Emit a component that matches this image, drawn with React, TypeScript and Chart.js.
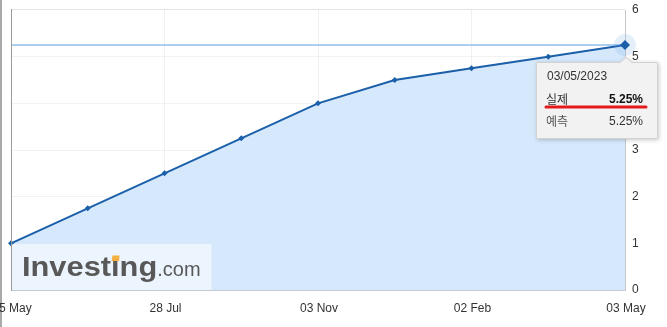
import React, { useEffect, useRef } from "react";
import { Chart, registerables } from "chart.js";

Chart.register(...registerables);

const categories = ["05 May", "16 Jun", "28 Jul", "22 Sep", "03 Nov", "15 Dec", "02 Feb", "23 Mar", "03 May"];
const rateValues = [1.0, 1.75, 2.5, 3.25, 4.0, 4.5, 4.75, 5.0, 5.25];
const xTickIndices = [0, 2, 4, 6, 8];
const xTickLabels = ["05 May", "28 Jul", "03 Nov", "02 Feb", "03 May"];
const yTicks = [0, 1, 2, 3, 4, 5, 6];
const tooltipDate = "03/05/2023";
const tooltipActualLabel = "실제";
const tooltipActualValue = "5.25%";
const tooltipForecastLabel = "예측";
const tooltipForecastValue = "5.25%";
const hoverIndex = 8;

const LATIN = "Arial, 'Liberation Sans', sans-serif";
const KR = "'Noto Sans CJK KR', sans-serif";

const decorPlugin = {
  id: "decor",
  beforeDatasetsDraw(chart: any) {
    const { ctx, chartArea, scales } = chart;
    const y = scales.y.getPixelForValue(rateValues[hoverIndex]);
    ctx.save();
    ctx.strokeStyle = "#90bfea";
    ctx.lineWidth = 1.5;
    ctx.beginPath();
    ctx.moveTo(chartArea.left, y);
    ctx.lineTo(chartArea.right, y);
    ctx.stroke();
    ctx.restore();
  },
  afterDatasetsDraw(chart: any) {
    const { ctx, chartArea, scales } = chart;
    ctx.save();
    // logo box
    const bx = chartArea.left;
    const by = 244;
    ctx.fillStyle = "rgba(255,255,255,0.55)";
    ctx.fillRect(bx + 0.5, by, 200, chartArea.bottom - by);
    ctx.fillStyle = "#585858";
    ctx.textBaseline = "alphabetic";
    ctx.textAlign = "left";
    const main = "Investing";
    const tx = 22;
    const ty = 276;
    ctx.save();
    ctx.translate(tx, ty);
    ctx.scale(1.1, 1);
    ctx.font = "bold 28px " + LATIN;
    ctx.fillText(main, 0, 0);
    const w = ctx.measureText(main).width;
    const preI = ctx.measureText("Invest").width;
    const iW = ctx.measureText("i").width;
    ctx.restore();
    ctx.font = "20px " + LATIN;
    ctx.fillText(".com", tx + w * 1.1, ty);
    // orange dot on i
    ctx.fillStyle = "#f5b041";
    const dx = tx + preI * 1.1;
    const dw = iW * 1.1;
    ctx.beginPath();
    ctx.moveTo(dx + 1.5, 255.5);
    ctx.lineTo(dx + dw, 255.5);
    ctx.lineTo(dx + dw - 0.5, 261);
    ctx.lineTo(dx + 0.5, 261);
    ctx.closePath();
    ctx.fill();

    // hover halo
    const px = scales.x.getPixelForValue(hoverIndex);
    const py = scales.y.getPixelForValue(rateValues[hoverIndex]);
    ctx.fillStyle = "rgba(110,165,230,0.18)";
    ctx.beginPath();
    ctx.arc(px, py, 11, 0, Math.PI * 2);
    ctx.fill();
    ctx.fillStyle = "#1b5fa9";
    ctx.beginPath();
    ctx.moveTo(px, py - 5);
    ctx.lineTo(px + 5, py);
    ctx.lineTo(px, py + 5);
    ctx.lineTo(px - 5, py);
    ctx.closePath();
    ctx.fill();
    ctx.restore();
  },
  afterDraw(chart: any) {
    const { ctx, chartArea, scales } = chart;
    ctx.save();
    // page left border
    ctx.fillStyle = "#a9a9a9";
    ctx.fillRect(0, 0, 2, chart.height);
    // frame
    ctx.strokeStyle = "#e4e4e4";
    ctx.lineWidth = 1;
    ctx.beginPath();
    ctx.moveTo(chartArea.left, chartArea.top - 0.5);
    ctx.lineTo(chartArea.right, chartArea.top - 0.5);
    ctx.stroke();
    ctx.strokeStyle = "#9a9a9a";
    ctx.beginPath();
    ctx.moveTo(chartArea.left + 0.5, chartArea.top - 1);
    ctx.lineTo(chartArea.left + 0.5, chartArea.bottom + 1);
    ctx.stroke();

    // x tick labels
    ctx.fillStyle = "#333333";
    ctx.font = "12px " + LATIN;
    ctx.textAlign = "center";
    ctx.textBaseline = "middle";
    xTickIndices.forEach((idx, i) => {
      const x = scales.x.getPixelForValue(idx);
      ctx.fillText(xTickLabels[i], x + 1, 309);
    });

    // tooltip
    const left = 536;
    const top = 62;
    const width = 122;
    const height = 77;
    const ax = scales.x.getPixelForValue(hoverIndex) + 1;
    ctx.save();
    ctx.shadowColor = "rgba(0,0,0,0.22)";
    ctx.shadowBlur = 4;
    ctx.shadowOffsetX = 1;
    ctx.shadowOffsetY = 1;
    ctx.fillStyle = "#f2f2f2";
    ctx.beginPath();
    ctx.moveTo(left, top);
    ctx.lineTo(ax - 6, top);
    ctx.lineTo(ax, top - 5);
    ctx.lineTo(ax + 6, top);
    ctx.lineTo(left + width, top);
    ctx.lineTo(left + width, top + height);
    ctx.lineTo(left, top + height);
    ctx.closePath();
    ctx.fill();
    ctx.restore();
    ctx.strokeStyle = "#d2d2d2";
    ctx.lineWidth = 1;
    ctx.beginPath();
    ctx.moveTo(left + 0.5, top + 0.5);
    ctx.lineTo(ax - 6, top + 0.5);
    ctx.lineTo(ax, top - 4.5);
    ctx.lineTo(ax + 6, top + 0.5);
    ctx.lineTo(left + width - 0.5, top + 0.5);
    ctx.lineTo(left + width - 0.5, top + height - 0.5);
    ctx.lineTo(left + 0.5, top + height - 0.5);
    ctx.closePath();
    ctx.stroke();

    ctx.textBaseline = "middle";
    ctx.textAlign = "left";
    ctx.fillStyle = "#333333";
    ctx.font = "12px " + LATIN;
    ctx.fillText(tooltipDate, 547, 77);
    ctx.font = "12px " + KR;
    ctx.fillText(tooltipActualLabel, 546, 99);
    ctx.textAlign = "right";
    ctx.font = "bold 12px " + LATIN;
    ctx.fillStyle = "#111111";
    ctx.fillText(tooltipActualValue, 643, 100);
    ctx.strokeStyle = "#e3191b";
    ctx.lineWidth = 3;
    ctx.lineCap = "round";
    ctx.beginPath();
    ctx.moveTo(546, 107);
    ctx.lineTo(646, 107);
    ctx.stroke();
    ctx.textAlign = "left";
    ctx.fillStyle = "#555555";
    ctx.font = "12px " + KR;
    ctx.fillText(tooltipForecastLabel, 546, 121);
    ctx.textAlign = "right";
    ctx.fillStyle = "#333333";
    ctx.font = "12px " + LATIN;
    ctx.fillText(tooltipForecastValue, 643, 122);
    ctx.restore();
  },
};

export default function App() {
  const canvasRef = useRef<HTMLCanvasElement | null>(null);

  useEffect(() => {
    if (!canvasRef.current) return;
    const chart = new Chart(canvasRef.current, {
      type: "line",
      data: {
        labels: categories,
        datasets: [
          {
            data: rateValues,
            borderColor: "#1b5fa9",
            borderWidth: 2,
            backgroundColor: "rgba(214,233,252,1)",
            fill: "origin",
            tension: 0,
            pointStyle: "rectRot",
            pointRadius: 3,
            pointBackgroundColor: "#1b5fa9",
            pointBorderColor: "#1b5fa9",
            pointBorderWidth: 0,
          },
        ],
      },
      options: {
        responsive: false,
        animation: false,
        devicePixelRatio: 1,
        layout: { padding: { left: 11, top: 10, right: 0, bottom: 0 } },
        plugins: {
          legend: { display: false },
          tooltip: { enabled: false },
        },
        events: [],
        scales: {
          x: {
            type: "category",
            offset: false,
            ticks: { display: false },
            grid: {
              drawTicks: false,
              color: (c: any) =>
                c.index > 0 && c.index < categories.length - 1 && xTickIndices.includes(c.index)
                  ? "rgba(0,0,0,0.06)"
                  : "rgba(0,0,0,0)",
            },
            border: { display: true, color: "#c3cad3" },
            afterFit: (s: any) => {
              s.height = 37;
              s.paddingLeft = 0;
              s.paddingRight = 0;
            },
          },
          y: {
            position: "right",
            min: 0,
            max: 6,
            afterBuildTicks: (s: any) => {
              s.ticks = yTicks.map((v) => ({ value: v }));
            },
            ticks: {
              color: "#333333",
              font: { family: LATIN, size: 12 },
              padding: 7,
            },
            grid: {
              drawTicks: false,
              color: (c: any) => (c.tick.value > 0 && c.tick.value < 6 ? "rgba(0,0,0,0.05)" : "rgba(0,0,0,0)"),
            },
            border: { display: true, color: "#c8c8c8" },
            afterFit: (s: any) => {
              s.width = 42;
              s.paddingTop = 0;
              s.paddingBottom = 0;
            },
          },
        },
      },
      plugins: [decorPlugin],
    });
    return () => chart.destroy();
  }, []);

  return (
    <div style={{ position: "absolute", left: 0, top: 0, width: 667, height: 327, background: "#ffffff" }}>
      <canvas ref={canvasRef} width={667} height={327} style={{ display: "block" }} />
    </div>
  );
}
